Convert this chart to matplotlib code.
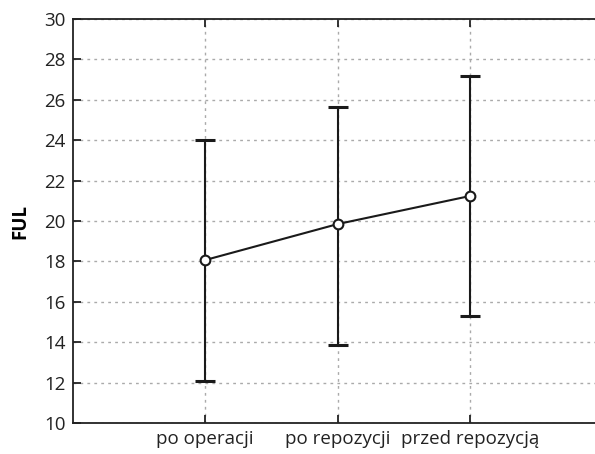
import matplotlib
matplotlib.use("Agg")
import matplotlib.pyplot as plt

categories = ["po operacji", "po repozycji", "przed repozycją"]
means = [18.07, 19.85, 21.24]
upper = [24.0, 25.64, 27.19]
lower = [12.1, 13.87, 15.3]

plt.rcParams["font.family"] = ["Open Sans", "DejaVu Sans"]

x = list(range(len(categories)))
yerr = [[m - lo for m, lo in zip(means, lower)], [up - m for m, up in zip(means, upper)]]

fig = plt.figure(figsize=(5.95, 4.54), dpi=100)
ax = fig.add_axes([0.122, 0.0676, 0.878, 0.8912])

ax.errorbar(x, means, yerr=yerr, fmt="none", ecolor="#1a1a1a",
            elinewidth=1.5, capsize=7, capthick=2.2, zorder=3)
ax.plot(x, means, color="#1a1a1a", lw=1.5, marker="o", markersize=7,
        markerfacecolor="white", markeredgecolor="#1a1a1a",
        markeredgewidth=1.5, zorder=4)

ax.set_xlim(-1, 2.94)
ax.set_ylim(10, 30)
ax.set_yticks(range(10, 31, 2))
ax.set_xticks(x)
ax.set_xticklabels(categories)
ax.grid(True, color="#aaaaaa", linestyle=(0, (2, 3)), linewidth=1)
ax.set_axisbelow(True)

ax.spines["right"].set_visible(False)
for s in ["left", "top", "bottom"]:
    ax.spines[s].set_linewidth(1.3)
    ax.spines[s].set_color("#222222")

ax.tick_params(direction="in", length=6, width=1.3, top=True, labelsize=13.5,
               colors="#222222", labelcolor="#222222")
ax.tick_params(axis="x", pad=5)
ax.tick_params(axis="y", pad=5)
ax.set_ylabel("FUL", fontsize=13.5, fontweight="bold", labelpad=10)

fig.savefig("out.png", dpi=100)
